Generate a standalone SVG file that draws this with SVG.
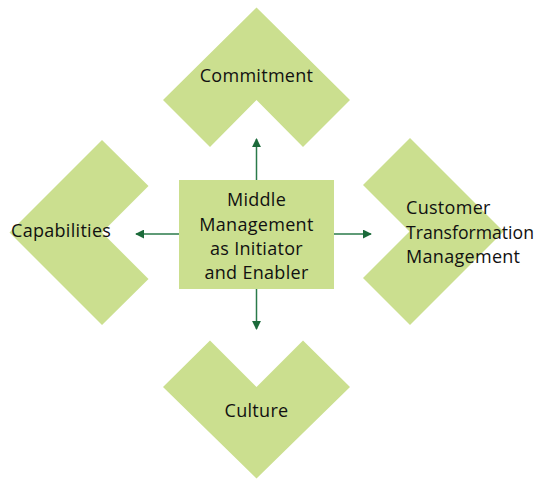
<svg xmlns="http://www.w3.org/2000/svg" width="537" height="479" viewBox="0 0 537 479">
<defs>
<style>
.shape{fill:#cbdf8f;stroke:none}
.lbl{font-family:"Open Sans","Noto Sans",sans-serif;font-size:18px;letter-spacing:0.3px;fill:#111}
.c{text-anchor:middle}
.conn{stroke:#2a7a4a;stroke-width:1.5;fill:none}
</style>
<marker id="ah" viewBox="0 0 10 10" refX="9" refY="5" markerWidth="6" markerHeight="6" markerUnits="strokeWidth" orient="auto">
<path d="M0,0 L10,5 L0,10 z" fill="#1b6a3a"/>
</marker>
</defs>
<rect width="537" height="479" fill="#fff"/>
<g id="commitment">
<polygon class="shape" points="256.5,7.5 350,100 303,147 256.5,100 210,147 163,100"/>
<text class="lbl c" x="256.5" y="82">Commitment</text>
</g>
<g id="capabilities">
<polygon class="shape" points="9.5,232.5 102,140 148.5,186 102,232.5 148.5,279 102,325"/>
<text class="lbl" x="11" y="237">Capabilities</text>
</g>
<g id="customer">
<polygon class="shape" points="410,138 503.5,231.5 410,325 363,278 409.5,231.5 363,185"/>
<text class="lbl" x="406" y="214">Customer</text>
<text class="lbl" x="406" y="238.5" textLength="128" lengthAdjust="spacingAndGlyphs" style="letter-spacing:0">Transformation</text>
<text class="lbl" x="406" y="263">Management</text>
</g>
<g id="culture">
<polygon class="shape" points="163,387 210,340.5 256.5,387 303,340.5 350,387 256.5,478.5"/>
<text class="lbl c" x="256.5" y="417">Culture</text>
</g>
<g id="middle">
<rect class="shape" x="179" y="180" width="155" height="109"/>
<text class="lbl c" x="256.5" y="206">Middle</text>
<text class="lbl c" x="256.5" y="230.5">Management</text>
<text class="lbl c" x="256.5" y="254.5">as Initiator</text>
<text class="lbl c" x="256.5" y="279">and Enabler</text>
</g>
<g id="connectors">
<line class="conn" x1="256.5" y1="180" x2="256.5" y2="139" marker-end="url(#ah)"/>
<line class="conn" x1="256.5" y1="289" x2="256.5" y2="329" marker-end="url(#ah)"/>
<line class="conn" x1="179" y1="234" x2="136" y2="234" marker-end="url(#ah)"/>
<line class="conn" x1="334" y1="234" x2="371" y2="234" marker-end="url(#ah)"/>
</g>
</svg>
